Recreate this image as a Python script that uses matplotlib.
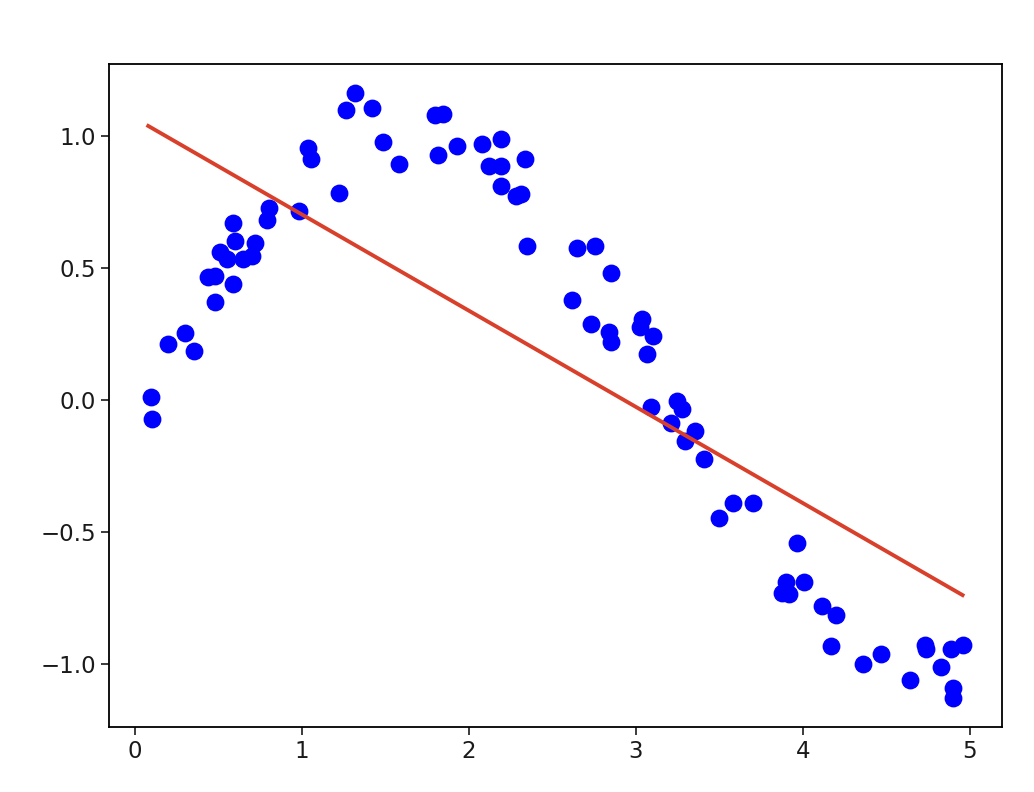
import numpy as np
import matplotlib
matplotlib.use("Agg")
import matplotlib.pyplot as plt

# scatter data
x = [0.094, 0.104, 0.20, 0.30, 0.353, 0.439, 0.479, 0.479, 0.509, 0.553,
     0.589, 0.589, 0.599, 0.645, 0.699, 0.719, 0.792, 0.804, 0.984, 1.038,
     1.052, 1.22, 1.265, 1.321, 1.421, 1.483, 1.581, 1.796, 1.846, 1.816,
     1.926, 2.076, 2.192, 2.12, 2.192, 2.335, 2.192, 2.281, 2.315, 2.345,
     2.615, 2.645, 2.731, 2.754, 2.84, 2.85, 2.85, 3.024, 3.034, 3.068,
     3.10, 3.088, 3.208, 3.244, 3.274, 3.293, 3.353, 3.41, 3.499, 3.583,
     3.703, 3.872, 3.898, 3.918, 3.962, 4.006, 4.112, 4.166, 4.198, 4.361,
     4.467, 4.641, 4.73, 4.737, 4.824, 4.886, 4.90, 4.90, 4.956]
y = [0.010, -0.072, 0.213, 0.256, 0.187, 0.465, 0.470, 0.371, 0.562, 0.533,
     0.439, 0.672, 0.602, 0.533, 0.545, 0.596, 0.682, 0.728, 0.718, 0.957,
     0.915, 0.785, 1.098, 1.162, 1.106, 0.977, 0.895, 1.080, 1.086, 0.928,
     0.963, 0.972, 0.991, 0.888, 0.888, 0.912, 0.813, 0.774, 0.780, 0.585,
     0.379, 0.575, 0.288, 0.583, 0.259, 0.221, 0.482, 0.278, 0.306, 0.174,
     0.242, -0.028, -0.085, -0.003, -0.032, -0.154, -0.116, -0.225, -0.448, -0.391,
     -0.391, -0.732, -0.688, -0.735, -0.543, -0.688, -0.780, -0.931, -0.814, -1.000,
     -0.963, -1.061, -0.928, -0.944, -1.013, -0.944, -1.092, -1.130, -0.928]

# fitted straight line (slope, intercept)
slope = -0.3646
intercept = 1.068

x = np.array(x)
y = np.array(y)
line_x = np.array([0.08, x.max()])
line_y = slope * line_x + intercept

fig = plt.figure(figsize=(10.34, 7.92), dpi=100)
ax = fig.add_axes([0.1054, 0.082, 0.8633, 0.837])

ax.scatter(x, y, s=140, color="#0000ff", zorder=2)
ax.plot(line_x, line_y, color="#d9402b", linewidth=2.8, zorder=3)

ax.set_xlim(-0.155, 5.19)
ax.set_ylim(-1.239, 1.273)
ax.set_xticks([0, 1, 2, 3, 4, 5])
ax.set_yticks([-1.0, -0.5, 0.0, 0.5, 1.0])

ax.tick_params(labelsize=16.5, length=5.5, width=1.2, pad=4, colors="#1a1a1a")
for sp in ax.spines.values():
    sp.set_linewidth(1.3)

fig.savefig("out.png", dpi=100)
